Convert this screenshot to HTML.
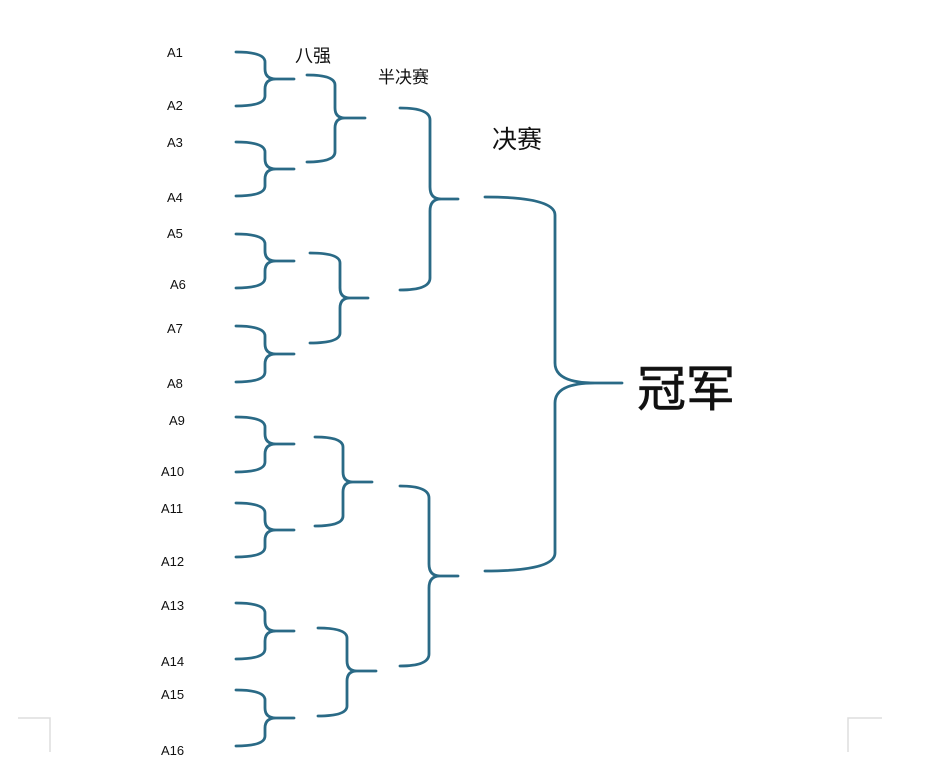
<!DOCTYPE html>
<html><head><meta charset="utf-8"><style>
html,body{margin:0;padding:0;background:#fff;}
svg{display:block}
text{font-family:"Liberation Sans","Noto Sans CJK SC",sans-serif;fill:#111}
</style></head><body>
<svg width="926" height="783" viewBox="0 0 926 783" xmlns="http://www.w3.org/2000/svg">
<g fill="none" stroke="#2a6a86" stroke-width="2.8" stroke-linecap="round">
<path d="M236 52 Q265 52 265 62 V69 Q265 79 276 79 H294 M276 79 Q265 79 265 89 V96 Q265 106 236 106"/>
<path d="M236 142 Q265 142 265 152 V159 Q265 169 276 169 H294 M276 169 Q265 169 265 179 V186 Q265 196 236 196"/>
<path d="M236 234 Q265 234 265 244 V251 Q265 261 276 261 H294 M276 261 Q265 261 265 271 V278 Q265 288 236 288"/>
<path d="M236 326 Q265 326 265 336 V344 Q265 354 276 354 H294 M276 354 Q265 354 265 364 V372 Q265 382 236 382"/>
<path d="M236 417 Q265 417 265 427 V434 Q265 444 276 444 H294 M276 444 Q265 444 265 454 V462 Q265 472 236 472"/>
<path d="M236 503 Q265 503 265 513 V520 Q265 530 276 530 H294 M276 530 Q265 530 265 540 V547 Q265 557 236 557"/>
<path d="M236 603 Q265 603 265 613 V621 Q265 631 276 631 H294 M276 631 Q265 631 265 641 V649 Q265 659 236 659"/>
<path d="M236 690 Q265 690 265 700 V708 Q265 718 276 718 H294 M276 718 Q265 718 265 728 V736 Q265 746 236 746"/>
<path d="M307 75 Q335 75 335 85 V108 Q335 118 345 118 H365 M345 118 Q335 118 335 128 V152 Q335 162 307 162"/>
<path d="M310 253 Q340 253 340 263 V288 Q340 298 350 298 H368 M350 298 Q340 298 340 308 V333 Q340 343 310 343"/>
<path d="M315 437 Q343 437 343 447 V472 Q343 482 353 482 H372 M353 482 Q343 482 343 492 V516 Q343 526 315 526"/>
<path d="M318 628 Q347 628 347 638 V661 Q347 671 357 671 H376 M357 671 Q347 671 347 681 V706 Q347 716 318 716"/>
<path d="M400 108 Q430 108 430 120 V187 Q430 199 441 199 H458 M441 199 Q430 199 430 211 V278 Q430 290 400 290"/>
<path d="M400 486 Q429 486 429 498 V564 Q429 576 440 576 H458 M440 576 Q429 576 429 588 V654 Q429 666 400 666"/>
<path d="M485 197 Q555 197 555 215 V363 Q555 383 595 383 H622 M595 383 Q555 383 555 403 V553 Q555 571 485 571"/>
</g>
<g fill="none" stroke="#ddd" stroke-width="1.5">
<path d="M18 718 H50 V752"/>
<path d="M882 718 H848 V752"/>
</g>
<g font-size="13">
<text x="167" y="57">A1</text>
<text x="167" y="110">A2</text>
<text x="167" y="147">A3</text>
<text x="167" y="202">A4</text>
<text x="167" y="238">A5</text>
<text x="170" y="289">A6</text>
<text x="167" y="333">A7</text>
<text x="167" y="388">A8</text>
<text x="169" y="425">A9</text>
<text x="161" y="476">A10</text>
<text x="161" y="513">A11</text>
<text x="161" y="566">A12</text>
<text x="161" y="610">A13</text>
<text x="161" y="666">A14</text>
<text x="161" y="699">A15</text>
<text x="161" y="755">A16</text>
</g>
<text x="295" y="62" font-size="18">八强</text>
<text x="378" y="83" font-size="17">半决赛</text>
<text x="492" y="148" font-size="25">决赛</text>
<text x="637" y="406" font-size="49" stroke="#111" stroke-width="0.6">冠军</text>
</svg>
</body></html>
